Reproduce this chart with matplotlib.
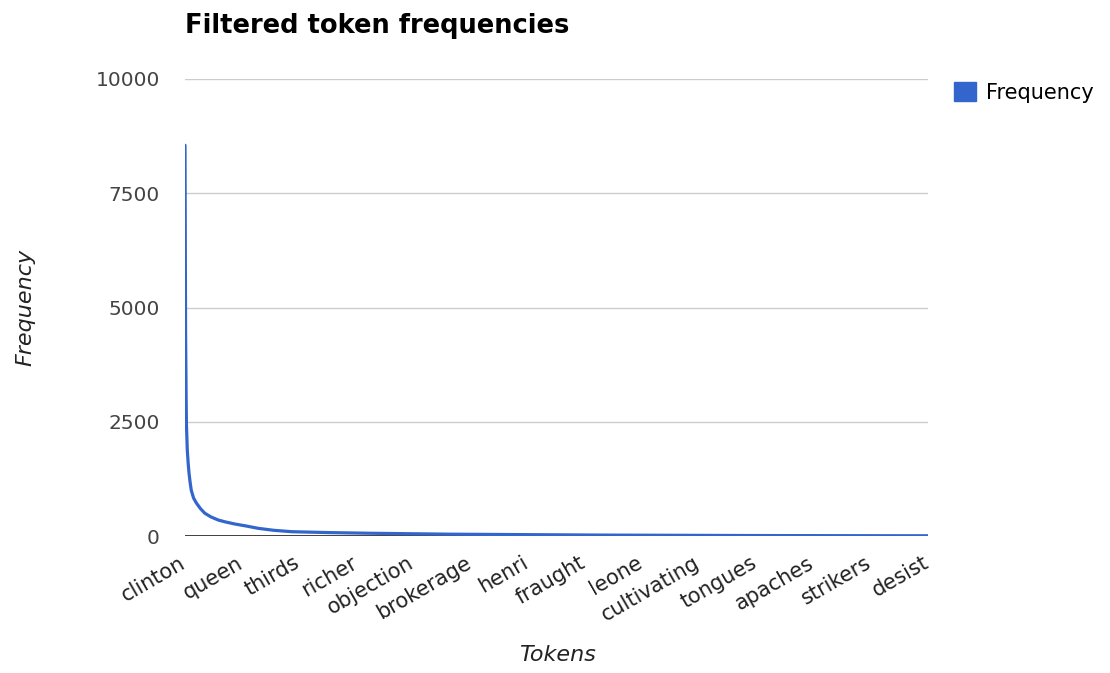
import matplotlib.pyplot as plt
import matplotlib.transforms as mtransforms
from matplotlib.patches import Patch

plt.rcParams['font.family'] = ['DejaVu Sans']

# tick labels shown along the x axis (every 1000th token)
tokens = ['clinton', 'queen', 'thirds', 'richer', 'objection', 'brokerage', 'henri',
          'fraught', 'leone', 'cultivating', 'tongues', 'apaches', 'strikers', 'desist']
label_step = 1000

# frequency at a few token ranks
rank = [0, 10, 20, 25, 40, 55, 70, 90, 110, 150, 200, 270, 345, 450, 580, 700, 870, 1070, 1280,
        1550, 1870, 2500, 3240, 4600, 7300, 10000, 13000]
freq = [8550, 4500, 3000, 2450, 1880, 1600, 1380, 1170, 1000, 830, 720, 600, 500, 420, 350, 310,
        263, 219, 168, 125, 94, 75, 60, 40, 20, 10, 5]

blue = '#3366cc'

fig = plt.figure(figsize=(11.10, 6.73), dpi=100)
ax = fig.add_axes([185 / 1110, 1 - 536 / 673, (928 - 185) / 1110, (536 - 79) / 673])

ax.plot(rank, freq, color=blue, linewidth=2.3, solid_capstyle='round', solid_joinstyle='round', zorder=3)

ax.set_xlim(0, label_step * (len(tokens) - 1))
ax.set_ylim(0, 10000)
ax.set_yticks([0, 2500, 5000, 7500, 10000])
ax.grid(axis='y', color='#cccccc', linewidth=1)
ax.axhline(0, color='#333333', linewidth=1.3, zorder=2)
for s in ax.spines.values():
    s.set_visible(False)
ax.set_axisbelow(True)

ax.set_xticks([i * label_step for i in range(len(tokens))])
ax.set_xticklabels(tokens, rotation=30, ha='right', rotation_mode='anchor', fontsize=15, color='#222222')
ax.tick_params(axis='x', length=0, pad=12)
ax.tick_params(axis='y', length=0, pad=18, labelsize=14.5, labelcolor='#444444')
shift = mtransforms.ScaledTranslation(-6 / 100, 0, fig.dpi_scale_trans)
for lab in ax.get_xticklabels():
    lab.set_transform(lab.get_transform() + shift)

ax.set_xlabel('Tokens', fontsize=16, style='italic', color='#222222')
ax.set_ylabel('Frequency', fontsize=16, style='italic', color='#222222')
ax.xaxis.set_label_coords(0.5 * (516 + 598 - 370) / 743, (536 - 645) / 457)
ax.yaxis.set_label_coords((35 - 185) / 743, 0.5)

fig.text(185 / 1110, 1 - 26 / 673, 'Filtered token frequencies', fontsize=18.5,
         fontweight='bold', va='center', ha='left')

fig.legend(handles=[Patch(facecolor=blue, edgecolor=blue, label='Frequency')],
           loc='upper left', bbox_to_anchor=(935 / 1110, 1 - 63 / 673), frameon=False,
           fontsize=15, handlelength=1.05, handleheight=1.05, handletextpad=0.5)

fig.savefig('out.png', dpi=100)
